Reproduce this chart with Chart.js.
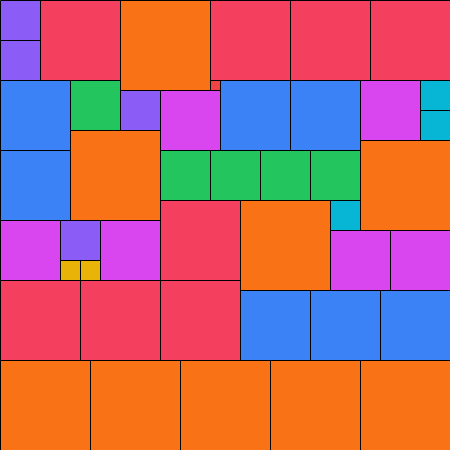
<!DOCTYPE html>
<html>
<head>
<meta charset="utf-8">
<script src="https://cdn.jsdelivr.net/npm/chart.js@4.4.1/dist/chart.umd.min.js"></script>
<style>
  html, body { margin: 0; padding: 0; background: #fff; }
</style>
</head>
<body>
<canvas id="squares" width="450" height="450"></canvas>
<script>
// side length of each square (grid units), with its top-left corner
const squareSide = [9, 9, 9, 9, 9, 9, 9, 9, 9,
                    8, 8, 8, 8, 8, 8, 8, 8,
                    7, 7, 7, 7, 7, 7, 7,
                    6, 6, 6, 6, 6, 6,
                    5, 5, 5, 5, 5,
                    4, 4, 4, 4,
                    3, 3, 3,
                    2, 2,
                    1];
const squareX = [12, 7, 36, 24, 0, 9, 18, 27, 36,
                 4, 21, 29, 37, 16, 0, 8, 16,
                 0, 0, 22, 29, 24, 31, 38,
                 16, 36, 33, 39, 0, 10,
                 7, 16, 21, 26, 31,
                 0, 0, 12, 6,
                 42, 42, 33,
                 6, 8,
                 21];
const squareY = [0, 13, 14, 20, 36, 36, 36, 36, 36,
                 0, 0, 0, 0, 20, 28, 28, 28,
                 8, 15, 8, 8, 29, 29, 29,
                 9, 8, 23, 23, 22, 22,
                 8, 15, 15, 15, 15,
                 0, 4, 9, 22,
                 8, 11, 20,
                 26, 26,
                 8];

const sizes = [9, 8, 7, 6, 5, 4, 3, 2, 1];
const sizeColors = ['#F97316', '#F43F5E', '#3B82F6', '#D946EF', '#22C55E',
                    '#8B5CF6', '#06B6D4', '#EAB308', '#EF4444'];

const gridSize = 45;

const datasets = squareSide.map((s, i) => {
    const x = squareX[i];
    const y = squareY[i];
    return {
        label: 'size ' + s,
        data: [
            { x: x, y: y },
            { x: x + s, y: y },
            { x: x + s, y: y + s },
            { x: x, y: y + s },
            { x: x, y: y }
        ],
        showLine: true,
        fill: 'shape',
        backgroundColor: sizeColors[sizes.indexOf(s)],
        borderColor: '#000',
        borderWidth: 1,
        borderJoinStyle: 'miter',
        tension: 0,
        pointRadius: 0,
        pointHoverRadius: 0
    };
});

const ctx = document.getElementById('squares').getContext('2d');
const chart = new Chart(ctx, {
    type: 'scatter',
    data: { datasets: datasets },
    options: {
        responsive: false,
        animation: false,
        devicePixelRatio: 1,
        layout: { padding: 0 },
        scales: {
            // half-pixel shift so 1px borders land on whole pixels
            x: { type: 'linear', display: false, min: -0.05, max: gridSize - 0.05 },
            y: { type: 'linear', display: false, reverse: true, min: -0.05, max: gridSize - 0.05 }
        },
        plugins: {
            legend: { display: false },
            tooltip: { enabled: false },
            filler: { drawTime: 'beforeDatasetsDraw' }
        }
    }
});
</script>
</body>
</html>
